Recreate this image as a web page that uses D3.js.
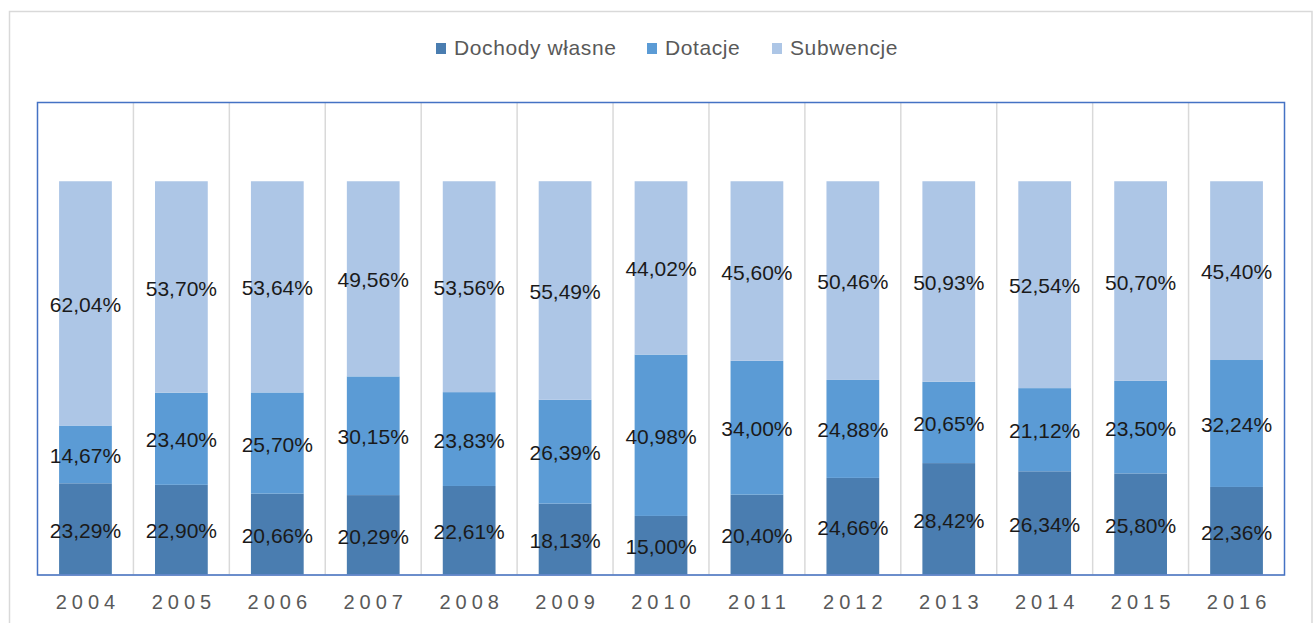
<!DOCTYPE html>
<html>
<head>
<meta charset="utf-8">
<script src="https://cdn.jsdelivr.net/npm/d3@7"></script>
<style>
  html, body { margin: 0; padding: 0; background: #fff; }
  svg { display: block; }
</style>
</head>
<body>
<svg id="chart" width="1316" height="623"></svg>
<script>
const years = ["2004","2005","2006","2007","2008","2009","2010","2011","2012","2013","2014","2015","2016"];
const seriesNames = ["Dochody własne", "Dotacje", "Subwencje"];
const dochodyWlasne = [23.29, 22.90, 20.66, 20.29, 22.61, 18.13, 15.00, 20.40, 24.66, 28.42, 26.34, 25.80, 22.36];
const dotacje       = [14.67, 23.40, 25.70, 30.15, 23.83, 26.39, 40.98, 34.00, 24.88, 20.65, 21.12, 23.50, 32.24];
const subwencje     = [62.04, 53.70, 53.64, 49.56, 53.56, 55.49, 44.02, 45.60, 50.46, 50.93, 52.54, 50.70, 45.40];
const colors = ["#4a7db0", "#5b9bd5", "#adc6e6"];

const rows = years.map((y, i) => ({
  year: y,
  "Dochody własne": dochodyWlasne[i],
  "Dotacje": dotacje[i],
  "Subwencje": subwencje[i]
}));

const svg = d3.select("#chart");
const plotL = 37.5, plotR = 1284.5, plotT = 102.5, plotB = 575;

// outer chart border
svg.append("rect").attr("x", 9.5).attr("y", 11.5).attr("width", 1302.5).attr("height", 640)
  .attr("fill", "none").attr("stroke", "#d9d9d9").attr("stroke-width", 1.5);

const x = d3.scaleBand().domain(years).range([plotL, plotR]).paddingInner(0).paddingOuter(0);
const y = d3.scaleLinear().domain([0, 120]).range([plotB, plotT]);
const barW = x.bandwidth() * 0.55;

// vertical gridlines at category boundaries
svg.append("g").selectAll("line").data(years.slice(1)).join("line")
  .attr("x1", d => x(d)).attr("x2", d => x(d))
  .attr("y1", plotT).attr("y2", plotB)
  .attr("stroke", "#d9d9d9").attr("stroke-width", 1.5);

const stack = d3.stack().keys(seriesNames);
const stacked = stack(rows);

const g = svg.append("g");
stacked.forEach((layer, si) => {
  g.append("g").selectAll("rect").data(layer).join("rect")
    .attr("x", d => x(d.data.year) + (x.bandwidth() - barW) / 2)
    .attr("width", barW)
    .attr("y", d => y(d[1]))
    .attr("height", d => y(d[0]) - y(d[1]))
    .attr("fill", colors[si]);
});

// x axis baseline
svg.append("line").attr("x1", plotL).attr("x2", plotR).attr("y1", plotB).attr("y2", plotB)
  .attr("stroke", "#d9d9d9").attr("stroke-width", 1.5);

// plot border
svg.append("rect").attr("x", plotL).attr("y", plotT).attr("width", plotR - plotL).attr("height", plotB - plotT)
  .attr("fill", "none").attr("stroke", "#4472c4").attr("stroke-width", 1.5);

// data labels
const lblG = svg.append("g");
stacked.forEach((layer, si) => {
  lblG.append("g").selectAll("text").data(layer).join("text")
    .attr("x", d => x(d.data.year) + x.bandwidth() / 2)
    .attr("y", d => (y(d[0]) + y(d[1])) / 2 + 1)
    .attr("dy", "0.36em")
    .attr("text-anchor", "middle")
    .attr("font-family", "'Liberation Sans', Arial, sans-serif")
    .attr("font-size", "21px")
    .attr("fill", "#1a1a1a")
    .text(d => (d[1] - d[0]).toFixed(2).replace(".", ",") + "%");
});

// x axis labels
const xAxis = d3.axisBottom(x).tickSize(0).tickPadding(0);
const ax = svg.append("g").attr("transform", `translate(0,${plotB})`).call(xAxis);
ax.select(".domain").remove();
ax.selectAll("text")
  .attr("y", 34)
  .attr("dy", 0)
  .attr("dx", "2.5px")
  .attr("font-family", "'Liberation Sans', Arial, sans-serif")
  .attr("font-size", "20px")
  .attr("letter-spacing", "5px")
  .attr("fill", "#595959");

// legend
const legendItems = [
  { name: seriesNames[0], x: 436, color: colors[0] },
  { name: seriesNames[1], x: 647, color: colors[1] },
  { name: seriesNames[2], x: 772, color: colors[2] }
];
const lg = svg.append("g");
legendItems.forEach(it => {
  lg.append("rect").attr("x", it.x).attr("y", 43).attr("width", 10).attr("height", 11).attr("fill", it.color);
  lg.append("text").attr("x", it.x + 18).attr("y", 55)
    .attr("font-family", "'Liberation Sans', Arial, sans-serif")
    .attr("font-size", "21px")
    .attr("letter-spacing", "0.6px")
    .attr("fill", "#595959")
    .text(it.name);
});
</script>
</body>
</html>
